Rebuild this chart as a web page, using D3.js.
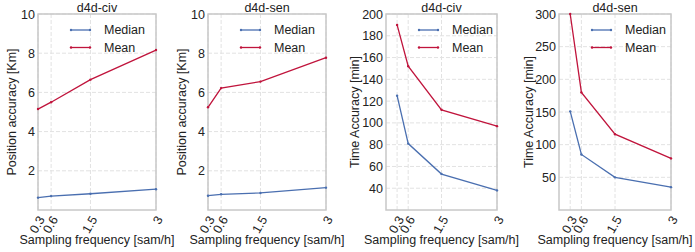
<!DOCTYPE html>
<html>
<head>
<meta charset="utf-8">
<script src="https://cdn.jsdelivr.net/npm/d3@7"></script>
<style>
  body { margin: 0; background: #fff; }
  text { font-family: "Liberation Sans", Arial, sans-serif; fill: #222; }
</style>
</head>
<body>
<div id="wrapper"></div>
<script>
// sampling frequencies (x)
const freqs = [0.3, 0.6, 1.5, 3]
const xTickLabels = ["0.3", "0.6", "1.5", "3"]

// position accuracy [Km]
const civPosMedian = [0.63, 0.71, 0.83, 1.06]
const civPosMean = [5.15, 5.5, 6.65, 8.16]
const senPosMedian = [0.73, 0.8, 0.87, 1.14]
const senPosMean = [5.24, 6.22, 6.55, 7.77]

// time accuracy [min]
const civTimeMedian = [125, 81, 53, 38]
const civTimeMean = [190, 152, 112, 97]
const senTimeMedian = [151, 85, 50, 35]
const senTimeMean = [300, 180, 116, 79]

const posTicks = [2, 4, 6, 8, 10]
const civTimeTicks = [40, 60, 80, 100, 120, 140, 160, 180, 200]
const senTimeTicks = [50, 100, 150, 200, 250, 300]

const seriesNames = ["Median", "Mean"]
const colors = ["#4a6fb0", "#c0143c"]

const panels = [
  { title: "d4d-civ", left: 38, right: 156, xDomain: [0.3, 3], yDomain: [0, 10],
    yTicks: posTicks, yLabel: "Position accuracy [Km]", labelX: 12,
    series: [civPosMedian, civPosMean] },
  { title: "d4d-sen", left: 208, right: 326, xDomain: [0.3, 3], yDomain: [0, 10],
    yTicks: posTicks, yLabel: "Position accuracy [Km]", labelX: 182,
    series: [senPosMedian, senPosMean] },
  { title: "d4d-civ", left: 386, right: 497, xDomain: [0, 3], yDomain: [20, 200],
    yTicks: civTimeTicks, yLabel: "Time Accuracy [min]", labelX: 355,
    series: [civTimeMedian, civTimeMean] },
  { title: "d4d-sen", left: 559, right: 671, xDomain: [0, 3], yDomain: [0, 300],
    yTicks: senTimeTicks, yLabel: "Time Accuracy [min]", labelX: 529,
    series: [senTimeMedian, senTimeMean] },
]

const dimensions = { width: 695, height: 252, top: 14, bottom: 210 }

const svg = d3.select("#wrapper")
  .append("svg")
    .attr("width", dimensions.width)
    .attr("height", dimensions.height)

panels.forEach(p => {
  const xScale = d3.scaleLinear()
      .domain(p.xDomain)
      .range([p.left, p.right])
  const yScale = d3.scaleLinear()
      .domain(p.yDomain)
      .range([dimensions.bottom, dimensions.top])

  const g = svg.append("g")

  // grid
  g.append("g")
    .selectAll("line")
    .data(p.yTicks)
    .join("line")
      .attr("x1", p.left).attr("x2", p.right)
      .attr("y1", d => yScale(d)).attr("y2", d => yScale(d))
      .attr("stroke", "#e2e2e2")
      .attr("stroke-dasharray", "4,2")
  g.append("g")
    .selectAll("line")
    .data(freqs)
    .join("line")
      .attr("x1", d => xScale(d)).attr("x2", d => xScale(d))
      .attr("y1", dimensions.top).attr("y2", dimensions.bottom)
      .attr("stroke", "#e2e2e2")
      .attr("stroke-dasharray", "4,2")

  // y axis
  const yAxis = g.append("g")
      .attr("transform", `translate(${p.left},0)`)
      .call(d3.axisLeft(yScale).tickValues(p.yTicks).tickSize(0).tickPadding(3))
  yAxis.select(".domain").remove()
  yAxis.selectAll("text")
      .style("font-size", "12.5px")
      .attr("fill", "#222")

  // x axis
  const xAxis = g.append("g")
      .attr("transform", `translate(0,${dimensions.bottom})`)
      .call(d3.axisBottom(xScale).tickValues(freqs)
        .tickFormat((d, i) => xTickLabels[i]).tickSize(0))
  xAxis.select(".domain").remove()
  xAxis.selectAll("text")
      .style("font-size", "12.5px")
      .attr("fill", "#222")
      .attr("text-anchor", "end")
      .attr("dy", "0.35em")
      .attr("y", 0)
      .attr("transform", "translate(3,7) rotate(-60)")

  // frame
  g.append("rect")
      .attr("x", p.left)
      .attr("y", dimensions.top)
      .attr("width", p.right - p.left)
      .attr("height", dimensions.bottom - dimensions.top)
      .attr("fill", "none")
      .attr("stroke", "#c8c8c8")
      .attr("stroke-width", 1.5)

  // lines
  const lineGenerator = d3.line()
    .x((d, i) => xScale(freqs[i]))
    .y(d => yScale(d))
  p.series.forEach((s, k) => {
    g.append("path")
        .attr("d", lineGenerator(s))
        .attr("fill", "none")
        .attr("stroke", colors[k])
        .attr("stroke-width", 1.3)
    g.selectAll(null)
      .data(s)
      .join("circle")
        .attr("cx", (d, i) => xScale(freqs[i]))
        .attr("cy", d => yScale(d))
        .attr("r", 1.2)
        .attr("fill", colors[k])
  })

  // legend
  const lx = p.left + 33
  seriesNames.forEach((name, k) => {
    const ly = 30 + k * 17.5
    g.append("line")
        .attr("x1", lx).attr("x2", lx + 19)
        .attr("y1", ly).attr("y2", ly)
        .attr("stroke", colors[k])
        .attr("stroke-width", 1.3)
    ;[lx, lx + 19].forEach(cx => g.append("circle")
        .attr("cx", cx).attr("cy", ly).attr("r", 1.2).attr("fill", colors[k]))
    g.append("text")
        .attr("x", lx + 33)
        .attr("y", ly)
        .attr("dy", "0.35em")
        .style("font-size", "12.5px")
        .text(name)
  })

  // title
  g.append("text")
      .attr("x", (p.left + p.right) / 2)
      .attr("y", 12)
      .attr("text-anchor", "middle")
      .style("font-size", "12.5px")
      .text(p.title)

  // axis labels
  g.append("text")
      .attr("x", (p.left + p.right) / 2)
      .attr("y", 244)
      .attr("text-anchor", "middle")
      .style("font-size", "12.5px")
      .text("Sampling frequency [sam/h]")
  g.append("text")
      .attr("transform", `translate(${p.labelX},${(dimensions.top + dimensions.bottom) / 2}) rotate(-90)`)
      .attr("text-anchor", "middle")
      .attr("dy", "0.35em")
      .style("font-size", "12.5px")
      .text(p.yLabel)
})
</script>
</body>
</html>
